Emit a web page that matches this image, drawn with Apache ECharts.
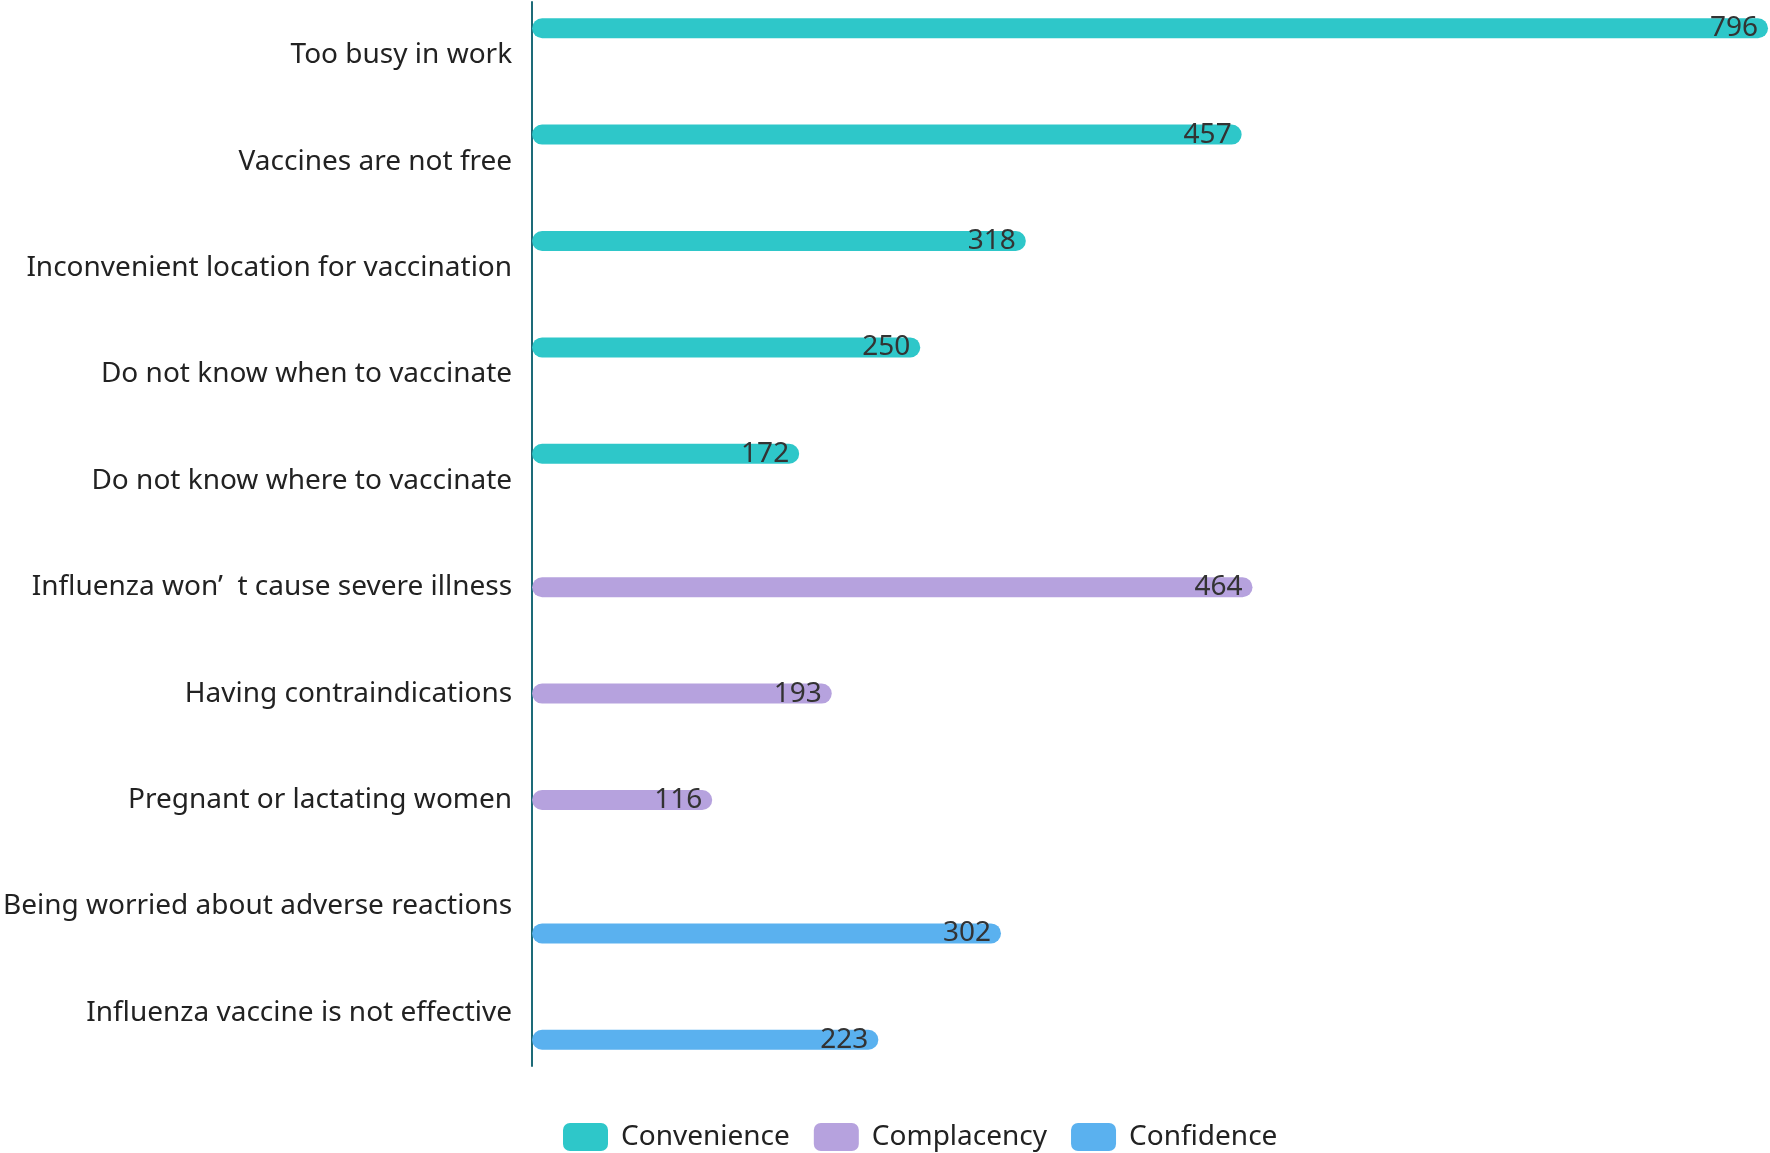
<!DOCTYPE html>
<html>
<head>
<meta charset="utf-8">
<script src="https://cdn.jsdelivr.net/npm/echarts@6/dist/echarts.min.js"></script>
<style>
  html, body { margin: 0; padding: 0; background: #fff; }
  #main { width: 1770px; height: 1153px; }
</style>
</head>
<body>
<div id="main"></div>
<script>
var categories = [
  'Too busy in work',
  'Vaccines are not free',
  'Inconvenient location for vaccination',
  'Do not know when to vaccinate',
  'Do not know where to vaccinate',
  'Influenza won’  t cause severe illness',
  'Having contraindications',
  'Pregnant or lactating women',
  'Being worried about adverse reactions',
  'Influenza vaccine is not effective'
];
// null = reason not in this group
var convenience = [796, 457, 318, 250, 172, null, null, null, null, null];
var complacency = [null, null, null, null, null, 464, 193, 116, null, null];
var confidence = [null, null, null, null, null, null, null, null, 302, 223];

var chartDom = document.getElementById('main');
var myChart = echarts.init(chartDom);
var option;

var fontFamily = '"Noto Sans", "Open Sans", sans-serif';

function barSeries(name, data, color) {
  return {
    name: name,
    type: 'bar',
    data: data,
    barWidth: 20,
    barGap: '35%',
    itemStyle: {
      color: color,
      borderRadius: 10
    },
    label: {
      show: true,
      position: 'insideRight',
      distance: 10,
      color: '#333',
      fontSize: 28,
      fontFamily: fontFamily
    }
  };
}

option = {
  animation: false,
  textStyle: { fontFamily: fontFamily },
  grid: {
    left: 528,
    right: 2,
    top: 2,
    bottom: 87
  },
  legend: {
    left: 558,
    top: 1118,
    itemWidth: 45,
    itemHeight: 28,
    itemGap: 24,
    icon: 'roundRect',
    textStyle: {
      fontSize: 28,
      color: '#222',
      padding: [0, 0, 0, 8],
      fontFamily: fontFamily
    },
    data: ['Convenience', 'Complacency', 'Confidence']
  },
  xAxis: {
    type: 'value',
    min: 0,
    max: 796,
    show: false,
    splitLine: { show: false }
  },
  yAxis: {
    type: 'category',
    inverse: true,
    data: categories,
    axisLine: {
      show: true,
      lineStyle: { color: '#1d6b78', width: 2 }
    },
    axisTick: { show: false },
    axisLabel: {
      fontSize: 28,
      color: '#222',
      margin: 20,
      fontFamily: fontFamily
    }
  },
  series: [
    barSeries('Convenience', convenience, '#2ec7c9'),
    barSeries('Complacency', complacency, '#b6a2de'),
    barSeries('Confidence', confidence, '#5ab1ef')
  ]
};

option && myChart.setOption(option);
</script>
</body>
</html>
